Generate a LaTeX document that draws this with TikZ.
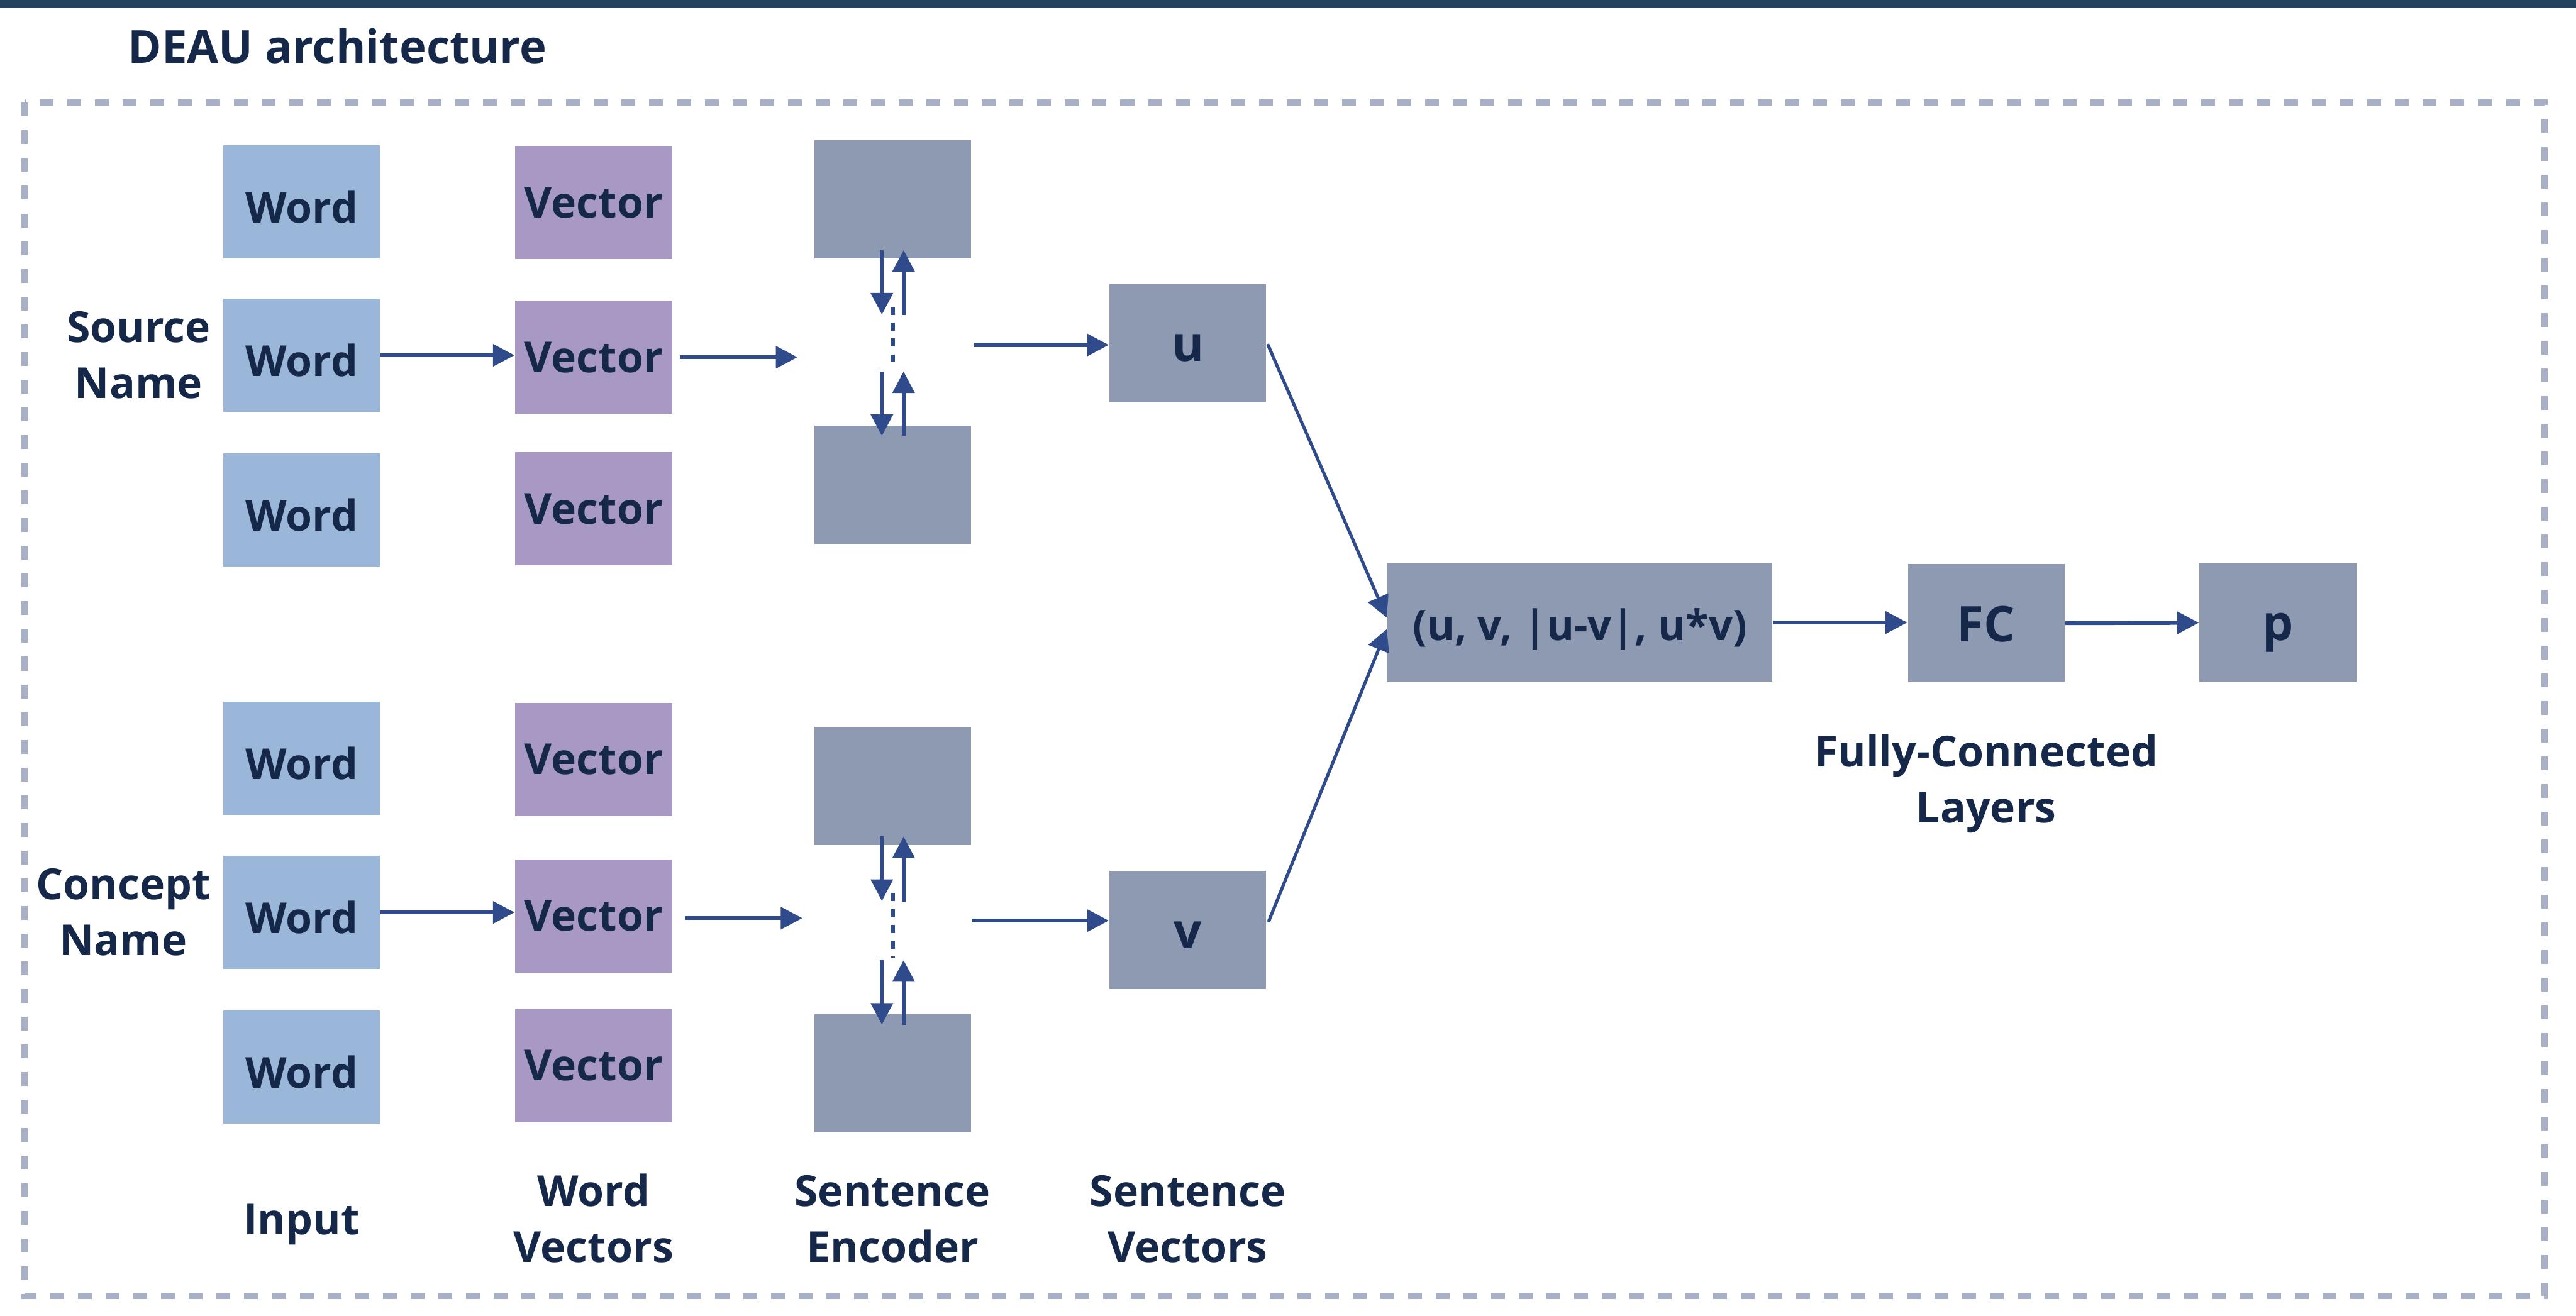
\documentclass[tikz,border=0pt]{standalone}
\usepackage{fontspec}
\setmainfont{Open Sans}
\newfontfamily\diagfont{Open Sans}
\usetikzlibrary{arrows.meta,calc,positioning}
\definecolor{Ink}{HTML}{15284A}
\definecolor{BarNavy}{HTML}{23425F}
\definecolor{FrameSoft}{HTML}{A8B0C8}
\definecolor{WordBlue}{HTML}{9AB6D9}
\definecolor{VecPurple}{HTML}{A899C4}
\definecolor{EncGray}{HTML}{8D9AB2}
\definecolor{FlowBlue}{HTML}{2F4B8B}
\tikzset{
  blk/.style={rectangle, inner sep=0pt, minimum width=1.91cm, minimum height=1.38cm,
    text=Ink, font=\diagfont\bfseries\fontsize{14.8}{19.4}\selectfont},
  wordblk/.style={blk, fill=WordBlue, text height=14.7pt, text depth=0pt},
  vecblk/.style={blk, fill=VecPurple},
  encblk/.style={blk, fill=EncGray, minimum height=1.44cm},
  symblk/.style={encblk, text height=12.6pt, text depth=0pt,
    font=\diagfont\bfseries\fontsize{17}{20}\selectfont},
  lbl/.style={inner sep=0pt, align=center, text=Ink,
    font=\diagfont\bfseries\fontsize{14.8}{19.4}\selectfont},
  flow/.style={draw=FlowBlue, line width=1.4pt, -{Triangle[length=7.5pt,width=7.5pt]}},
  thinflow/.style={flow, line width=1.1pt},
  dotflow/.style={draw=FlowBlue, line width=1.5pt, dash pattern=on 2.8pt off 2.7pt}
}
\begin{document}
\begin{tikzpicture}[x=0.02cm, y=-0.02cm]
  \useasboundingbox (0,0) rectangle (1568,801);
  \fill[BarNavy] (0,0) rectangle (1568,5);
  \node[anchor=base west, inner sep=0pt, text=Ink, font=\diagfont\bfseries\fontsize{15.8}{20}\selectfont]
    (title) at (77.6,38.6) {DEAU architecture};
  \draw[FrameSoft, line width=2.2pt, dash pattern=on 4.8pt off 4.8pt] (15,62.5) rectangle (1549,789);

  % source name branch
  \node[wordblk] (sw1) at (183.6,122.8) {Word};
  \node[wordblk] (sw2) at (183.6,216.3) {Word};
  \node[wordblk] (sw3) at (183.6,310.4) {Word};
  \node[vecblk] (sv1) at (361.3,123.3) {Vector};
  \node[vecblk] (sv2) at (361.3,217.5) {Vector};
  \node[vecblk] (sv3) at (361.3,309.8) {Vector};
  \node[encblk] (se1) at (543.3,121.5) {};
  \node[encblk] (se2) at (543.3,295) {};
  \node[symblk] (u) at (723,209) {u};

  % concept name branch
  \node[wordblk] (cw1) at (183.6,461.7) {Word};
  \node[wordblk] (cw2) at (183.6,555.5) {Word};
  \node[wordblk] (cw3) at (183.6,649.5) {Word};
  \node[vecblk] (cv1) at (361.3,462.4) {Vector};
  \node[vecblk] (cv2) at (361.3,557.6) {Vector};
  \node[vecblk] (cv3) at (361.3,648.8) {Vector};
  \node[encblk] (ce1) at (543.3,478.5) {};
  \node[encblk] (ce2) at (543.3,653.4) {};
  \node[symblk] (v) at (723,566.3) {v};

  \node[symblk, minimum width=4.69cm, font=\diagfont\bfseries\fontsize{14.6}{18}\selectfont]
    (pair) at (961.7,379) {(u, v, |u-v|, u*v)};
  \node[symblk] (fc) at (1209,379.5) {FC};
  \node[symblk] (p) at (1386.5,379) {p};

  \node[lbl, left=0.14cm of sw2] (srclbl) {Source\\Name};
  \node[lbl, left=0.14cm of cw2] (cptlbl) {Concept\\Name};
  \node[lbl] (inlbl) at (183.6,745.5) {Input};
  \node[lbl] (wvlbl) at (361.3,741.7) {Word\\Vectors};
  \node[lbl] (enclbl) at (543.3,742.2) {Sentence\\Encoder};
  \node[lbl] (svlbl) at (723,742.2) {Sentence\\Vectors};
  \node[lbl, below=0.62cm of fc] (fclbl) {Fully-Connected\\Layers};

  \coordinate (sin) at ($(sv2.east)+(76,0)$);
  \coordinate (sout) at (593,210);
  \coordinate (cin) at ($(cv2.east)+(79,1.4)$);
  \coordinate (cout) at (591.3,560.5);

  \draw[flow] (sw2.east) -- (sw2.east -| sv2.west);
  \draw[flow] ([xshift=0.09cm]sv2.east) -- (sin);
  \draw[flow] (sout) -- (sout -| u.west);
  \draw[flow] (cw2.east) -- (cw2.east -| cv2.west);
  \draw[flow] ([xshift=0.15cm]cv2.east |- cin) -- (cin);
  \draw[flow] (cout) -- (cout -| v.west);

  \foreach \e in {se,ce} {
    \draw[flow] ($(\e1.south)+(-6.5,-5.6)$) -- ($(\e1.south)+(-6.5,33.7)$);
    \draw[flow] ($(\e1.south)+(6.7,34.1)$) -- ($(\e1.south)+(6.7,-5.6)$);
    \draw[dotflow] ($(\e1.south)+(0,28.9)$) -- ($(\e2.north)+(0,-34)$);
    \draw[flow] ($(\e2.north)+(-6.5,-32.5)$) -- ($(\e2.north)+(-6.5,6.8)$);
    \draw[flow] ($(\e2.north)+(6.7,6.8)$) -- ($(\e2.north)+(6.7,-32.5)$);
  }

  \draw[thinflow] ($(u.east)+(0.5,0.5)$) -- ($(pair.west)+(0,-3)$);
  \draw[thinflow] ($(v.east)+(1,-5)$) -- ($(pair.west)+(0,4)$);
  \draw[flow] (pair.east) -- (pair.east -| fc.west);
  \draw[flow] (fc) -- (p);
\end{tikzpicture}
\end{document}
